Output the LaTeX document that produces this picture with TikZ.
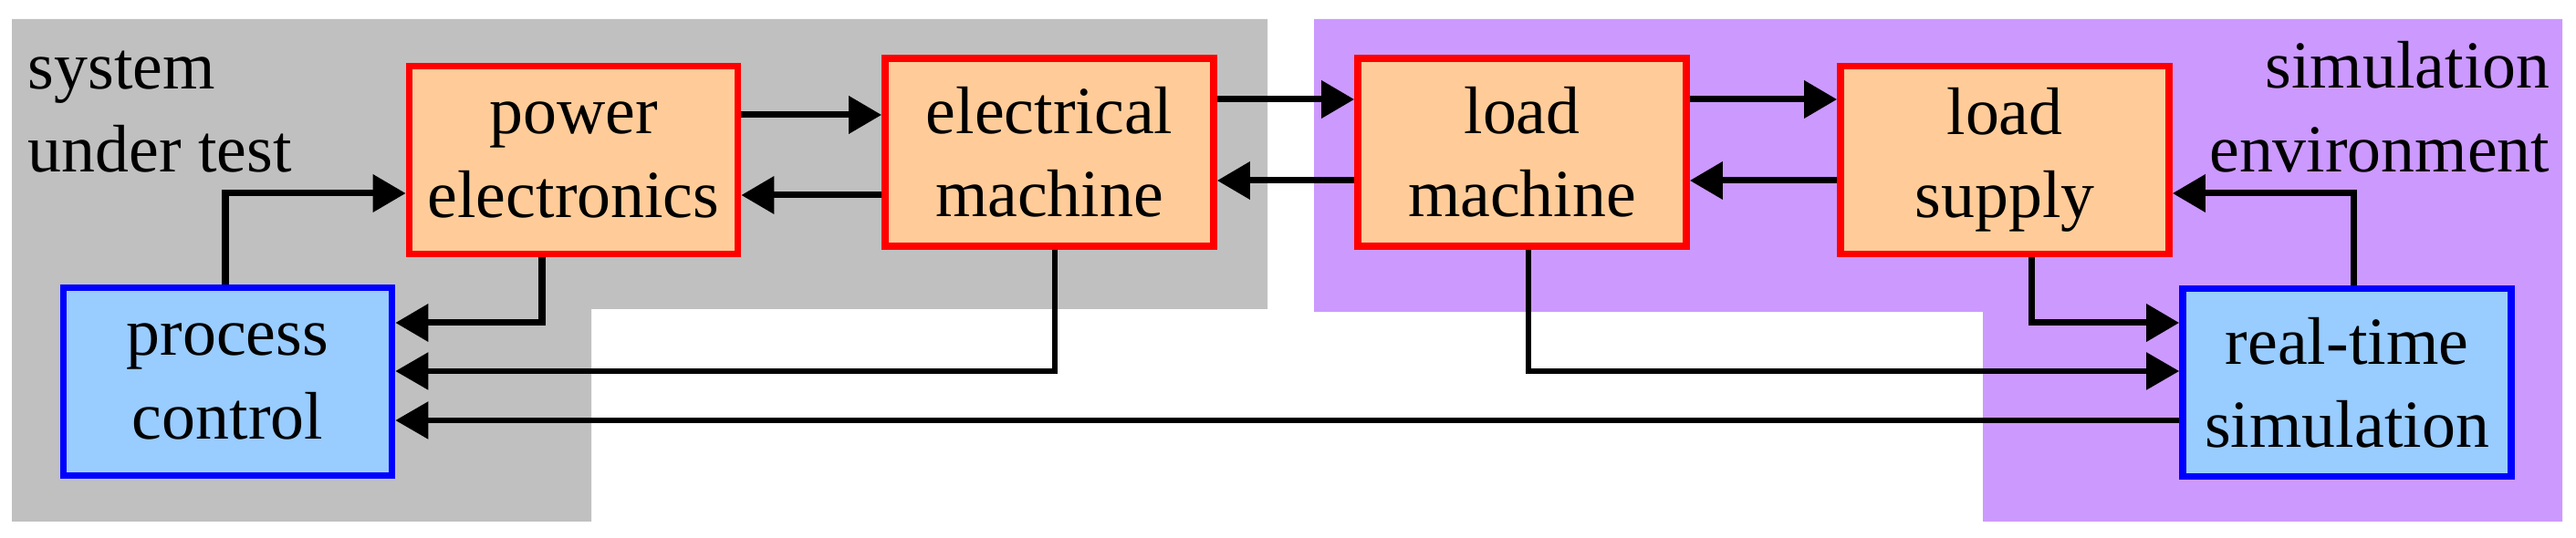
\documentclass[tikz,border=0pt]{standalone}
\usepackage{fontspec}
\setmainfont{Liberation Serif}
\usetikzlibrary{arrows.meta}
\definecolor{sutgray}{HTML}{C0C0C0}
\definecolor{envviolet}{HTML}{CC99FF}
\definecolor{blockorange}{HTML}{FFCC99}
\definecolor{ctrlblue}{HTML}{99CCFF}
\begin{document}
\begin{tikzpicture}[
    block/.style={draw=red, line width=2.2pt, fill=blockorange, minimum width=3.6cm, minimum height=2.06cm, align=center, font=\fontsize{21}{26}\selectfont},
    ctrl/.style={block, draw=blue, fill=ctrlblue},
    sig/.style={line width=2pt, -{Triangle[length=0.36cm, width=0.4cm]}},
    thin sig/.style={sig, line width=1.6pt},
    region/.style={font=\fontsize{21}{26}\selectfont, align=left}
  ]
  \useasboundingbox (0,0) rectangle (28.23,5.9);

  % Hintergrundflaechen
  \fill[sutgray] (0.13,5.69) -- (13.89,5.69) -- (13.89,2.51) -- (6.48,2.51) -- (6.48,0.18) -- (0.13,0.18) -- cycle;
  \fill[envviolet] (14.40,5.69) -- (28.08,5.69) -- (28.08,0.18) -- (21.73,0.18) -- (21.73,2.48) -- (14.40,2.48) -- cycle;
  \node[region, anchor=north west, inner sep=0pt] (sut) at (0.3,5.35) {system\\under test};
  \node[region, anchor=north east, align=right, inner sep=0pt] (env) at (27.95,5.45) {simulation\\environment};

  % Bloecke
  \node[block] (pe) at (6.285,4.145) {power\\electronics};
  \node[block] (em) at (11.50,4.23) {electrical\\machine};
  \node[block] (lm) at (16.68,4.23) {load\\machine};
  \node[block] (ls) at (21.97,4.145) {load\\supply};
  \node[ctrl] (pc) at (2.495,1.715) {process\\control};
  \node[ctrl] (rts) at (25.72,1.705) {real-time\\simulation};

  % Leistungsfluss
  \draw[sig] (pe.east |- 0,4.64) -- (em.west |- 0,4.64);
  \draw[sig] (em.west |- 0,3.76) -- (pe.east |- 0,3.76);
  \draw[sig] (em.east |- 0,4.81) -- (lm.west |- 0,4.81);
  \draw[sig] (lm.west |- 0,3.92) -- (em.east |- 0,3.92);
  \draw[sig] (lm.east |- 0,4.81) -- (ls.west |- 0,4.81);
  \draw[sig] (ls.west |- 0,3.92) -- (lm.east |- 0,3.92);

  % Signale
  \draw[sig] (pc.north -| 2.47,0) |- (pe.west |- 0,3.78);
  \draw[sig] (pe.south -| 5.94,0) |- (pc.east |- 0,2.36);
  \draw[thin sig] (em.south -| 11.56,0) |- (pc.east |- 0,1.83);
  \draw[thin sig] (rts.west |- 0,1.29) -- (pc.east |- 0,1.29);
  \draw[thin sig] (lm.south -| 16.75,0) |- (rts.west |- 0,1.83);
  \draw[sig] (ls.south -| 22.26,0) |- (rts.west |- 0,2.36);
  \draw[sig] (rts.north -| 25.79,0) |- (ls.east |- 0,3.78);
\end{tikzpicture}
\end{document}
